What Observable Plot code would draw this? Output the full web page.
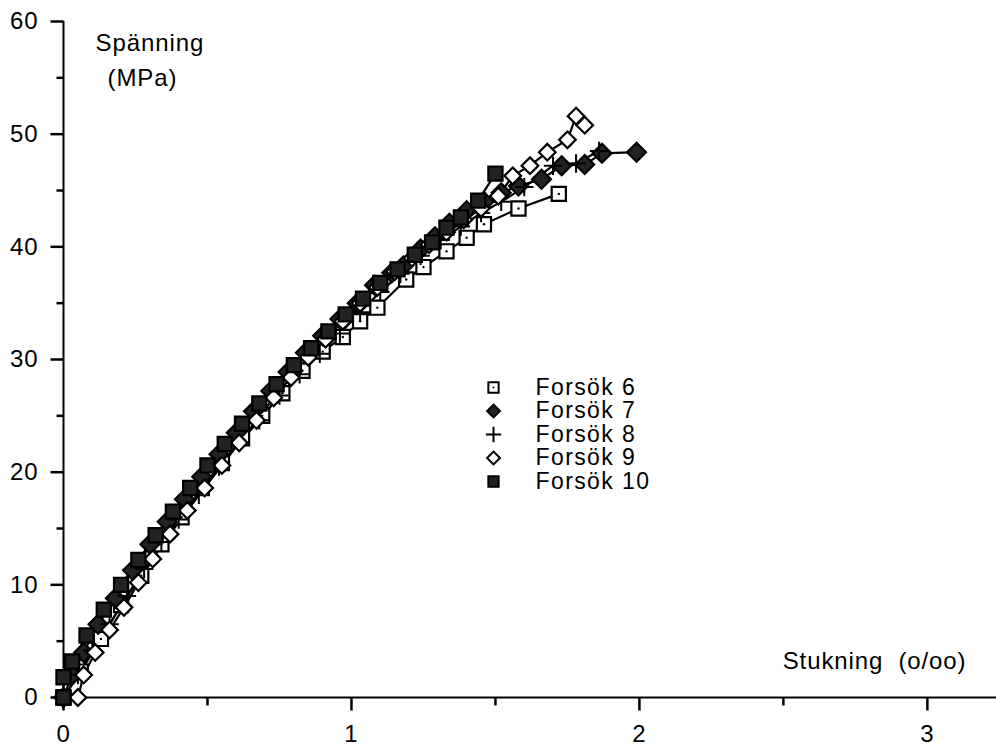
<!DOCTYPE html>
<html>
<head>
<meta charset="utf-8">
<script src="https://cdn.jsdelivr.net/npm/d3@7"></script>
<script src="https://cdn.jsdelivr.net/npm/@observablehq/plot@0.6"></script>
<style>
  body { margin: 0; background: white; }
  #chart { width: 996px; height: 746px; }
  #chart text { letter-spacing: 0.9px; }
  #chart g.legend-text text { letter-spacing: 1.4px; }
</style>
</head>
<body>
<div id="chart"></div>
<script>
// Stukning (o/oo) vs Spänning (MPa)
const series6 = [[0,0],[0.06,2.3],[0.13,5.2],[0.2,8.2],[0.27,10.8],[0.34,13.6],[0.41,16],[0.48,18.6],[0.55,20.8],[0.62,23],[0.69,25],[0.76,27],[0.83,29],[0.9,30.7],[0.97,32],[1.03,33.4],[1.09,34.6],[1.19,37.1],[1.25,38.2],[1.33,39.6],[1.4,40.8],[1.46,42.0],[1.58,43.4],[1.72,44.7]];
const series7 = [[0,0],[0.03,2],[0.07,4],[0.12,6.5],[0.18,8.8],[0.24,11.3],[0.3,13.6],[0.36,15.6],[0.42,17.6],[0.48,19.6],[0.54,21.6],[0.6,23.5],[0.66,25.4],[0.72,27.2],[0.78,28.9],[0.84,30.6],[0.9,32.1],[0.96,33.6],[1.02,35],[1.08,36.6],[1.14,37.7],[1.18,38.3],[1.24,39.8],[1.29,40.9],[1.34,42.1],[1.4,43.2],[1.46,44.0],[1.52,44.8],[1.58,45.4],[1.66,46.0],[1.73,47.2],[1.81,47.3],[1.87,48.3],[1.99,48.4]];
const series8 = [[0,0],[0.05,2],[0.1,4.2],[0.16,6.5],[0.22,9],[0.28,11.4],[0.34,13.8],[0.4,15.8],[0.47,18],[0.54,20.5],[0.61,22.6],[0.68,24.6],[0.75,26.8],[0.82,28.7],[0.89,30.5],[0.96,32.3],[1.03,34.2],[1.1,36],[1.17,37.6],[1.24,39.2],[1.31,40.6],[1.38,41.8],[1.45,43],[1.52,44],[1.6,45.3],[1.7,47.2],[1.78,47.4],[1.86,48.5]];
const series9 = [[0.05,0],[0.07,2],[0.11,4],[0.16,6],[0.21,8],[0.26,10.2],[0.31,12.3],[0.37,14.5],[0.43,16.6],[0.49,18.6],[0.55,20.6],[0.61,22.6],[0.67,24.6],[0.73,26.6],[0.79,28.4],[0.85,30.2],[0.91,31.8],[0.97,33.4],[1.03,35],[1.09,36.4],[1.15,37.8],[1.21,39],[1.27,40.2],[1.33,41.3],[1.39,42.4],[1.45,43.4],[1.51,44.5],[1.56,46.3],[1.62,47.2],[1.68,48.4],[1.75,49.5],[1.78,51.6],[1.81,50.8]];
const series10 = [[0,0],[0,1.8],[0.03,3.2],[0.08,5.5],[0.14,7.8],[0.2,10],[0.26,12.2],[0.32,14.4],[0.38,16.5],[0.44,18.6],[0.5,20.6],[0.56,22.5],[0.62,24.3],[0.68,26.1],[0.74,27.8],[0.8,29.5],[0.86,31],[0.92,32.5],[0.98,34],[1.04,35.4],[1.1,36.8],[1.16,38],[1.22,39.3],[1.28,40.4],[1.33,41.7],[1.38,42.6],[1.44,44.1],[1.5,46.5]];
const seriesNames = ["Forsök 6", "Forsök 7", "Forsök 8", "Forsök 9", "Forsök 10"];
const xMajorTicks = [0, 1, 2, 3];
const xMinorTicks = [0.5, 1.5, 2.5];
const yMajorTicks = [0, 10, 20, 30, 40, 50, 60];
const yMinorTicks = [5, 15, 25, 35, 45, 55];
const xLabel = "Stukning\u00a0\u00a0(o/oo)";
const yLabel1 = "Spänning";
const yLabel2 = "(MPa)";

const allSeries = [series6, series7, series8, series9, series10];
const rows = allSeries.flatMap((s, i) => s.map(([x, y]) => ({series: seriesNames[i], x, y})));

const styles = {
  "Forsök 6": {symbol: "square", fill: "white", r: 8, dotInside: true},
  "Forsök 7": {symbol: "diamond2", fill: "#222", r: 8.5},
  "Forsök 8": {symbol: "plus", fill: "none", r: 6},
  "Forsök 9": {symbol: "diamond2", fill: "white", r: 7.5},
  "Forsök 10": {symbol: "square", fill: "#222", r: 8}
};

// tick glyphs as custom symbols (fixed pixel length)
const tickSymbol = (dx, dy) => ({draw(context) { context.moveTo(0, 0); context.lineTo(dx, dy); }});

const font = "'Liberation Sans', Arial, Helvetica, sans-serif";
const FS = 24;
const LFS = 23;
const marks = [];

marks.push(Plot.ruleX([0], {y1: 0, y2: 60, stroke: "black", strokeWidth: 2}));
marks.push(Plot.ruleY([0], {x1: 0, x2: 3.24, stroke: "black", strokeWidth: 2}));
marks.push(Plot.dot(yMajorTicks, {y: d => d, frameAnchor: "left", symbol: tickSymbol(-13, 0), fill: "none", stroke: "black", strokeWidth: 2.5}));
marks.push(Plot.dot(yMinorTicks, {y: d => d, frameAnchor: "left", symbol: tickSymbol(-7, 0), fill: "none", stroke: "black", strokeWidth: 2.5}));
marks.push(Plot.dot(xMajorTicks, {x: d => d, frameAnchor: "bottom", symbol: tickSymbol(0, 13), fill: "none", stroke: "black", strokeWidth: 2.5}));
marks.push(Plot.dot(xMinorTicks, {x: d => d, frameAnchor: "bottom", symbol: tickSymbol(0, 8), fill: "none", stroke: "black", strokeWidth: 2.5}));
marks.push(Plot.text(yMajorTicks, {y: d => d, frameAnchor: "left", dx: -25, text: d => String(d), textAnchor: "end", lineAnchor: "middle", fontSize: FS, fill: "black"}));
marks.push(Plot.text(xMajorTicks, {x: d => d, frameAnchor: "bottom", dy: 27, text: d => String(d), textAnchor: "middle", lineAnchor: "top", fontSize: FS, fill: "black"}));

marks.push(Plot.line(rows, {x: "x", y: "y", z: "series", stroke: "black", strokeWidth: 2.2}));

for (const name of seriesNames) {
  const st = styles[name];
  const data = rows.filter(d => d.series === name);
  if (st.symbol === "plus") {
    marks.push(Plot.dot(data, {x: "x", y: "y", symbol: "plus", r: st.r, stroke: "black", strokeWidth: 2}));
  } else {
    marks.push(Plot.dot(data, {x: "x", y: "y", symbol: st.symbol, r: st.r, fill: st.fill, stroke: "black", strokeWidth: 2.2}));
  }
  if (st.dotInside) marks.push(Plot.dot(data, {x: "x", y: "y", r: 1.2, fill: "black"}));
}

seriesNames.forEach((name, i) => {
  const st = styles[name];
  const dy = 366 + i * 23.5;
  const r = st.symbol === "plus" ? 5 : 5.8;
  if (st.symbol === "plus") {
    marks.push(Plot.dot([name], {frameAnchor: "top-left", dx: 430, dy, symbol: "plus", r, stroke: "black", strokeWidth: 2}));
  } else {
    marks.push(Plot.dot([name], {frameAnchor: "top-left", dx: 430, dy, symbol: st.symbol, r, fill: st.fill, stroke: "black", strokeWidth: 2}));
  }
  if (st.dotInside) marks.push(Plot.dot([name], {frameAnchor: "top-left", dx: 430, dy, r: 1, fill: "black"}));
  marks.push(Plot.text([name], {frameAnchor: "top-left", dx: 472, dy, text: d => d, textAnchor: "start", lineAnchor: "middle", fontSize: LFS, fill: "black", className: "legend-text"}));
});

marks.push(Plot.text([yLabel1], {frameAnchor: "top-left", dx: 32, dy: 29, text: d => d, textAnchor: "start", lineAnchor: "bottom", fontSize: FS, fill: "black"}));
marks.push(Plot.text([yLabel2], {frameAnchor: "top-left", dx: 44, dy: 64, text: d => d, textAnchor: "start", lineAnchor: "bottom", fontSize: FS, fill: "black"}));
marks.push(Plot.text([xLabel], {frameAnchor: "bottom-right", dx: -30, dy: -29, text: d => d, textAnchor: "end", lineAnchor: "bottom", fontSize: FS, fill: "black"}));

const chart = Plot.plot({
  width: 996,
  height: 746,
  marginLeft: 63,
  marginRight: 0,
  marginTop: 21,
  marginBottom: 49,
  x: {domain: [0, 3.24], axis: null},
  y: {domain: [0, 60], axis: null},
  style: {fontFamily: font, fontSize: FS + "px", color: "black", background: "white", overflow: "visible"},
  marks
});
document.getElementById("chart").appendChild(chart);
</script>
</body>
</html>
